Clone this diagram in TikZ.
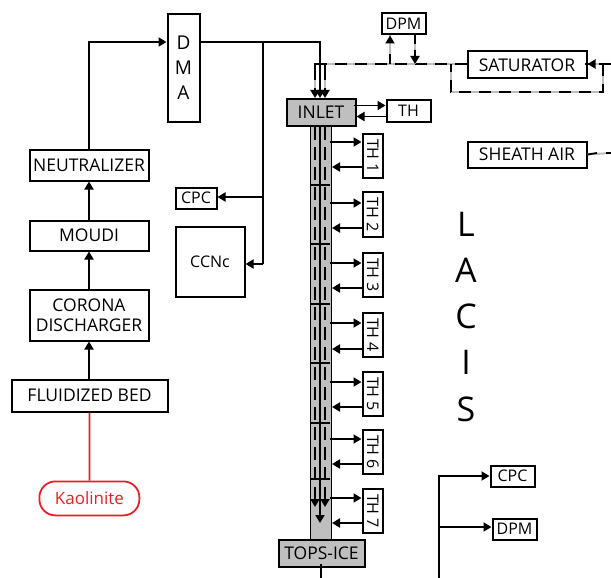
\documentclass[tikz,border=0pt]{standalone}
\usepackage{fontspec}
\setmainfont{Open Sans}
\usetikzlibrary{arrows.meta}
\definecolor{colgray}{gray}{0.75}
\definecolor{airgray}{gray}{0.74}
\definecolor{kred}{RGB}{230,30,40}
\tikzset{
  box/.style={draw=black,line width=2pt,fill=white,inner sep=0pt,font=\fontsize{17.5}{20.5}\selectfont,align=center},
  graybox/.style={box,fill=colgray},
  smallbox/.style={box,font=\fontsize{16}{19}\selectfont},
  thbox/.style={box,font=\fontsize{16}{19}\selectfont},
  arr/.style={line width=1.8pt,-{Triangle[length=8pt,width=9pt]}},
  blackline/.style={line width=1.8pt,draw=black},
  redline/.style={line width=1.8pt,draw=kred},
  airbase/.style={line width=2pt,draw=airgray},
  airdash/.style={line width=1.8pt,draw=black,dash pattern=on 12pt off 8pt},
}
\newcommand{\airline}[1]{\draw[airbase] #1; \draw[airdash] #1;}
\begin{document}
\begin{tikzpicture}[x=1pt,y=-1pt]
\useasboundingbox (0,0) rectangle (611,578);
% column
\node[draw=black,line width=1.5pt,fill=colgray,minimum width=21pt,minimum height=414pt,inner sep=0pt,anchor=north west] (col) at (309.5,125) {};
\foreach \x in {315,325}{\draw[line width=1.5pt,dash pattern=on 13pt off 7pt] (\x,127) -- (\x,498);}
\draw[line width=1.5pt] (320,125) -- (320,510);
\foreach \y in {185,244,304,363,423,479}{\draw[line width=1.5pt] (310,\y) -- (330,\y);}
% boxes
\node[box,minimum width=32pt,minimum height=107pt,anchor=north west,font=\fontsize{19}{25}\selectfont] (dma) at (166.5,13.5) {D\\M\\A};
\node[graybox,minimum width=69pt,minimum height=27pt,anchor=north west] (inlet) at (285.5,98) {INLET};
\node[smallbox,minimum width=44pt,minimum height=21pt,anchor=north west] (th) at (385.5,99.5) {TH};
\node[smallbox,minimum width=44pt,minimum height=21pt,anchor=north west] (dpmtop) at (380.5,12.5) {DPM};
\node[box,minimum width=119pt,minimum height=27pt,anchor=north west] (sat) at (466.5,50.5) {SATURATOR};
\node[box,minimum width=119pt,minimum height=26pt,anchor=north west] (sheath) at (466.5,140.5) {SHEATH AIR};
\node[graybox,minimum width=86pt,minimum height=27pt,anchor=north west] (tops) at (277.5,538.5) {TOPS-ICE};
\node[box,minimum width=156pt,minimum height=32pt,anchor=north west] (fb) at (10.5,378.5) {FLUIDIZED BED};
\node[box,minimum width=119pt,minimum height=51pt,anchor=north west] (cd) at (28.5,288.5) {CORONA\\DISCHARGER};
\node[box,minimum width=119pt,minimum height=30pt,anchor=north west] (moudi) at (28.5,219.5) {MOUDI};
\node[box,minimum width=119pt,minimum height=31pt,anchor=north west] (neut) at (28.5,148.5) {NEUTRALIZER};
\node[smallbox,minimum width=41pt,minimum height=21pt,anchor=north west] (cpctop) at (174.5,186.5) {CPC};
\node[smallbox,minimum width=69pt,minimum height=70pt,anchor=north west] (ccn) at (174.5,225.5) {CCNc};
\node[smallbox,minimum width=44pt,minimum height=21pt,anchor=north west] (cpcb) at (489.5,464.5) {CPC};
\node[smallbox,minimum width=44pt,minimum height=21pt,anchor=north west] (dpmb) at (491.5,517.5) {DPM};
\node[draw=kred,line width=1.8pt,rounded corners=16pt,minimum width=100pt,minimum height=34pt,inner sep=0pt,anchor=north west,font=\fontsize{17}{20}\selectfont,text=kred] (kao) at (38.5,480.5) {Kaolinite};
% TH nodes
\foreach \i/\t/\h/\ya/\yb in {1/133/44/142/167,2/191/45/203/228,3/252/44/263/288,4/312/44/323/349,5/371/44/382/407,6/429/44/439/464,7/488/44/498/523}{
  \node[thbox,minimum width=20.5pt,minimum height=\h pt,anchor=north west] (th\i) at (361.5,\t) {\rotatebox{-90}{TH \i}};
  \coordinate (oa\i) at (330,\ya);
  \coordinate (ib\i) at (362,\yb);
  \draw[arr] (oa\i) -- (oa\i -| th\i.west);
  \draw[arr] (ib\i) -- (ib\i -| col.east);
}
% left chain
\draw[redline] (kao.north) -- (fb.south);
\draw[arr] (fb.north -| cd.south) -- (cd.south);
\draw[arr] (cd.north) -- (moudi.south);
\draw[arr] (moudi.north) -- (neut.south);
\coordinate (dmain) at (dma.west |- 0,42);
\draw[arr] (neut.north) |- (dmain);
% DMA out
\coordinate (dmaout) at (dma.east |- 0,42);
\coordinate (bp) at (263,42);
\coordinate (inc) at (320,98);
\draw[arr] (dmaout) -| (inc);
\coordinate (cpcy) at (263,197);
\coordinate (ccny) at (263,264);
\draw[blackline] (bp) -- (ccny);
\draw[arr] (cpcy) -- (cpcy -| cpctop.east);
\draw[arr] (ccny) -- (ccny -| ccn.east);
% air lines top
\coordinate (al) at (315,64);
\coordinate (satl) at (467,64);
\coordinate (satr) at (585,64);
\coordinate (re) at (611,64);
\coordinate (rb) at (603,64);
\coordinate (lpr) at (603,92);
\coordinate (lpl) at (451,92);
\coordinate (lpt) at (451,64);
\airline{(al) -- (satl)}
\airline{(re) -- (satr)}
\airline{(rb) -- (lpr) -- (lpl) -- (lpt)}
\draw[airbase] (315,65) -- (315,92); \draw[airbase] (325,65) -- (325,92);
\draw[blackline] (315,63.3) -- (315,80); \draw[blackline] (325,63.3) -- (325,80);
\draw[arr] (315,88) -- (315,98);
\draw[arr] (325,88) -- (325,98);
\draw[arr] (590,64) -- (sat.east |- satr);
% DPM
\coordinate (dpu) at (390,64);
\coordinate (dpd) at (415,64);
\draw[airbase] (dpu) -- (dpu |- dpmtop.south);
\draw[blackline] (dpu) -- (390,54);
\draw[arr] (390,42) -- (dpu |- dpmtop.south);
\draw[airbase] (dpd |- dpmtop.south) -- (dpd);
\draw[blackline] (dpd |- dpmtop.south) -- (415,44);
\draw[arr] (415,50) -- (dpd);
% TH inlet
\coordinate (tho) at (354,105.5);
\coordinate (thi) at (386,116.5);
\draw[arr] (tho) -- (tho -| th.west);
\draw[arr] (thi) -- (thi -| inlet.east);
% sheath
\coordinate (she) at (611,153);
\draw[airbase] (sheath.east) -- (she);
\draw[blackline] (sheath.east) -- (597,153);
\draw[blackline] (606,153) -- (she);
% column arrows
\draw[arr] (315,495) -- (315,507);
\draw[arr] (325,495) -- (325,507);
\draw[arr] (320,510) -- (320,523);
% below
\coordinate (bot) at (321,578);
\draw[blackline] (321,564) -- (bot);
% bottom right
\coordinate (v) at (439,578);
\coordinate (vd) at (439,527);
\draw[arr] (v) |- (cpcb.west);
\draw[arr] (vd) -- (vd -| dpmb.west);
% LACIS
\foreach \l/\y in {L/224,A/270,C/316,I/362,S/409}{\node[font=\fontsize{34}{36}\selectfont,inner sep=0pt] (lac\l) at (466,\y) {\l};}
\end{tikzpicture}
\end{document}
